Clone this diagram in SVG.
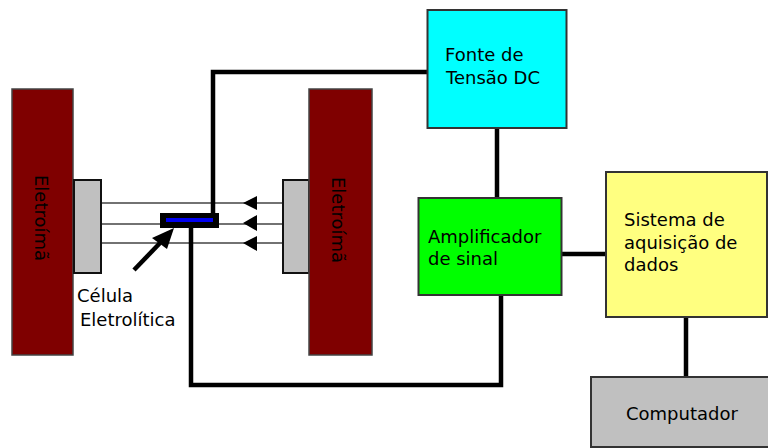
<svg xmlns="http://www.w3.org/2000/svg" width="768" height="448" viewBox="0 0 768 448">
<style>
text{font-family:"DejaVu Sans",Verdana,sans-serif;font-size:18px;fill:#000}
.box{stroke:#333;stroke-width:2}
.mag{fill:#7f0000;stroke:#444;stroke-width:1.5}
.pole{fill:#c0c0c0;stroke:#111;stroke-width:2}
.wire{fill:none;stroke:#000;stroke-width:4.5}
.field{fill:none;stroke:#444;stroke-width:1.5}
</style>
<defs>
<marker id="tip" markerUnits="userSpaceOnUse" markerWidth="20" markerHeight="20" refX="1" refY="10" orient="auto"><path d="M0 10L19 1L14 10L19 19Z" fill="#000"/></marker>
</defs>
<g id="connectors">
<path class="field" d="M102 203H283M102 224H283M102 243H283"/>
<path d="M243 203L257 196V210ZM243 223L257 215V231ZM243 243L257 236V251Z" fill="#000"/>
<path class="wire" d="M213 214V72H428"/>
<path class="wire" d="M191 228V385H501V295"/>
<path class="wire" d="M497 128V198"/>
<path class="wire" d="M562 254H606"/>
<path class="wire" d="M686 317V377"/>
<path d="M134 270L160 243" fill="none" stroke="#000" stroke-width="4.5"/>
<path d="M174 228L152 238L167 249Z" fill="#000"/>
</g>
<g id="eletroima-esquerdo">
<rect class="mag" x="12" y="89" width="61" height="266"/>
<text transform="translate(35 175) rotate(90)">Eletroímã</text>
</g>
<g id="polo-esquerdo"><rect class="pole" x="74" y="180" width="27" height="93"/></g>
<g id="polo-direito"><rect class="pole" x="283" y="180" width="26" height="93"/></g>
<g id="eletroima-direito">
<rect class="mag" x="309" y="89" width="63" height="266"/>
<text transform="translate(332 177) rotate(90)">Eletroímã</text>
</g>
<g id="celula">
<rect x="160" y="213" width="59" height="15" fill="#000"/>
<rect x="166" y="218" width="47" height="4" fill="#0000f0"/>
<text x="77" y="302">Célula</text>
<text x="80" y="326">Eletrolítica</text>
</g>
<g id="fonte">
<rect class="box" x="427.500" y="10" width="139" height="118" fill="#00ffff"/>
<text x="445" y="61">Fonte de</text>
<text x="446" y="84">Tensão DC</text>
</g>
<g id="amplificador">
<rect class="box" x="418.500" y="198" width="143" height="97" fill="#00ff00"/>
<text x="428" y="243">Amplificador</text>
<text x="428" y="265">de sinal</text>
</g>
<g id="sistema">
<rect class="box" x="606" y="172" width="161" height="145" fill="#ffff80"/>
<text x="624" y="226">Sistema de</text>
<text x="624" y="249">aquisição de</text>
<text x="624" y="271">dados</text>
</g>
<g id="computador">
<rect x="591" y="377" width="178" height="70" fill="#c0c0c0" stroke="#333" stroke-width="2"/>
<text x="626" y="420">Computador</text>
</g>
</svg>
